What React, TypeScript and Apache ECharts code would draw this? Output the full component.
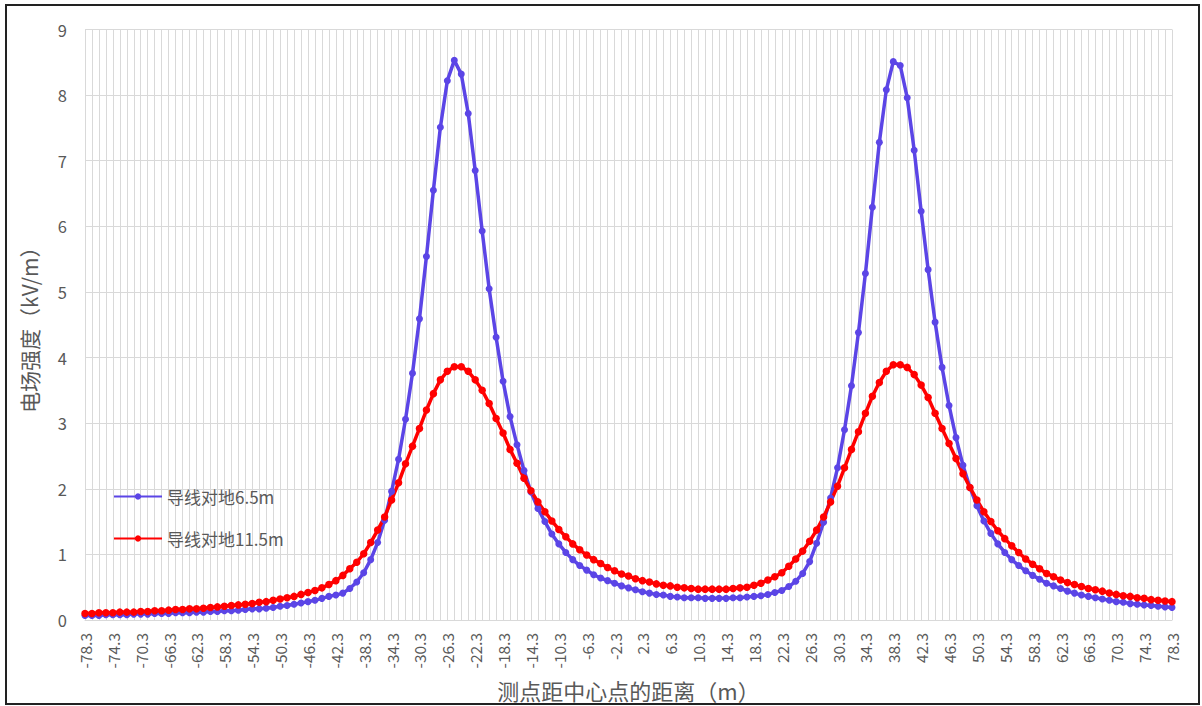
import React, { useEffect, useRef } from "react";
import * as echarts from "echarts";

const xCategories: string[] = [
  "-78.3","-77.3","-76.3","-75.3","-74.3","-73.3","-72.3","-71.3","-70.3","-69.3",
  "-68.3","-67.3","-66.3","-65.3","-64.3","-63.3","-62.3","-61.3","-60.3","-59.3",
  "-58.3","-57.3","-56.3","-55.3","-54.3","-53.3","-52.3","-51.3","-50.3","-49.3",
  "-48.3","-47.3","-46.3","-45.3","-44.3","-43.3","-42.3","-41.3","-40.3","-39.3",
  "-38.3","-37.3","-36.3","-35.3","-34.3","-33.3","-32.3","-31.3","-30.3","-29.3",
  "-28.3","-27.3","-26.3","-25.3","-24.3","-23.3","-22.3","-21.3","-20.3","-19.3",
  "-18.3","-17.3","-16.3","-15.3","-14.3","-13.3","-12.3","-11.3","-10.3","-9.3",
  "-8.3","-7.3","-6.3","-5.3","-4.3","-3.3","-2.3","-1.3","0","1.3",
  "2.3","3.3","4.3","5.3","6.3","7.3","8.3","9.3","10.3","11.3",
  "12.3","13.3","14.3","15.3","16.3","17.3","18.3","19.3","20.3","21.3",
  "22.3","23.3","24.3","25.3","26.3","27.3","28.3","29.3","30.3","31.3",
  "32.3","33.3","34.3","35.3","36.3","37.3","38.3","39.3","40.3","41.3",
  "42.3","43.3","44.3","45.3","46.3","47.3","48.3","49.3","50.3","51.3",
  "52.3","53.3","54.3","55.3","56.3","57.3","58.3","59.3","60.3","61.3",
  "62.3","63.3","64.3","65.3","66.3","67.3","68.3","69.3","70.3","71.3",
  "72.3","73.3","74.3","75.3","76.3","77.3","78.3"
];

const wire65: number[] = [
  0.07,0.07,0.07,0.08,0.08,0.08,0.08,0.09,0.09,0.09,
  0.10,0.10,0.10,0.11,0.11,0.11,0.12,0.12,0.13,0.13,
  0.14,0.14,0.15,0.16,0.17,0.17,0.18,0.19,0.21,0.22,
  0.24,0.26,0.28,0.30,0.33,0.36,0.38,
  0.41,0.48,0.58,0.72,0.92,1.18,1.52,1.96,2.45,3.06,
  3.76,4.59,5.54,6.55,7.51,8.22,8.53,8.32,7.72,6.85,5.93,5.05,4.31,3.64,3.10,2.67,
  2.28,1.95,
  1.70,1.50,1.31,1.16,1.03,0.92,0.83,0.76,0.69,0.64,0.60,0.56,0.52,0.49,0.46,0.43,0.41,0.39,0.38,0.36,
  0.35,0.34,0.34,0.34,0.33,0.33,0.33,0.33,0.34,0.34,0.35,0.36,0.37,0.39,0.42,
  0.45,0.51,0.59,0.71,0.89,1.17,1.49,1.86,2.32,2.90,3.57,4.38,5.28,6.29,7.28,8.08,8.51,8.45,7.96,7.16,
  6.23,5.34,4.54,3.85,3.27,2.78,
  2.36,2.02,1.74,1.51,1.32,1.16,1.03,0.92,0.83,0.75,0.68,0.62,0.56,0.52,0.48,0.44,0.41,0.38,0.36,0.34,
  0.32,0.30,0.28,0.27,0.25,0.24,0.23,0.22,0.21,0.20,0.19
];

const wire115: number[] = [
  0.10,0.10,0.11,0.11,0.11,0.12,0.12,0.12,0.13,0.13,
  0.14,0.14,0.15,0.16,0.16,0.17,0.17,0.18,0.19,0.20,
  0.21,0.22,0.23,0.24,0.25,0.27,0.28,0.30,0.32,0.34,
  0.36,0.39,0.42,0.45,0.49,0.54,0.60,
  0.68,0.78,0.88,1.01,1.18,1.37,1.57,1.83,2.09,2.38,2.65,2.92,3.20,3.45,3.66,3.79,3.86,3.86,3.79,3.66,
  3.50,3.30,3.07,2.85,2.60,2.39,
  2.16,1.97,1.80,1.65,1.51,1.38,1.27,1.16,1.07,0.99,0.92,0.86,0.80,0.75,0.70,0.67,0.63,0.60,0.58,0.55,
  0.53,0.52,0.50,0.49,0.48,0.47,0.47,0.47,0.47,0.47,0.48,0.49,0.50,0.53,0.56,0.61,0.66,
  0.72,0.82,0.93,1.05,1.20,1.37,1.57,1.80,2.04,2.32,2.60,2.87,3.15,3.41,3.62,3.79,3.89,3.89,3.85,3.74,
  3.58,3.39,3.15,2.92,2.69,2.46,
  2.23,2.02,1.83,1.65,1.50,1.36,1.24,1.13,1.03,0.93,0.85,0.78,0.71,0.66,0.61,0.57,0.54,0.51,0.48,0.46,
  0.44,0.41,0.39,0.37,0.36,0.34,0.33,0.31,0.30,0.29,0.28
];

const seriesNames = ["导线对地6.5m", "导线对地11.5m"];
const yTicks = { min: 0, max: 9, interval: 1 };

const FONT = "'Noto Sans CJK SC', 'Noto Sans', sans-serif";
const GRID_COLOR = "#d9d9d9";
const TEXT_COLOR = "#595959";

export default function App() {
  const ref = useRef<HTMLDivElement>(null);
  useEffect(() => {
    document.body.style.margin = "0";
    if (!ref.current) return;
    const chart = echarts.init(ref.current, null, { renderer: "svg" });
    chart.setOption({
      animation: false,
      backgroundColor: "#ffffff",
      textStyle: { fontFamily: FONT },
      grid: { left: 85, right: 30, top: 29.5, bottom: 79, containLabel: false },
      legend: {
        orient: "vertical",
        left: 108,
        top: 483,
        itemGap: 25,
        itemWidth: 48,
        itemHeight: 8,
        textStyle: { fontSize: 17, color: TEXT_COLOR, fontFamily: FONT },
        data: seriesNames,
      },
      xAxis: {
        type: "category",
        data: xCategories,
        boundaryGap: false,
        name: "测点距中心点的距离（m）",
        nameLocation: "middle",
        nameGap: 59,
        nameTextStyle: { fontSize: 22, color: TEXT_COLOR, fontFamily: FONT },
        axisLine: { show: true, lineStyle: { color: GRID_COLOR, width: 1 } },
        axisTick: { show: false },
        axisLabel: {
          interval: 3,
          rotate: 90,
          fontSize: 15.5,
          color: TEXT_COLOR,
          margin: 13,
          fontFamily: FONT,
        },
        splitLine: { show: true, interval: 0, lineStyle: { color: GRID_COLOR, width: 1 } },
      },
      yAxis: {
        type: "value",
        min: yTicks.min,
        max: yTicks.max,
        interval: yTicks.interval,
        name: "电场强度（kV/m）",
        nameLocation: "middle",
        nameGap: 46,
        nameTextStyle: { fontSize: 21, color: TEXT_COLOR, fontFamily: FONT },
        axisLine: { show: false },
        axisTick: { show: false },
        axisLabel: { fontSize: 16.5, color: TEXT_COLOR, margin: 18, fontFamily: FONT },
        splitLine: { show: true, lineStyle: { color: GRID_COLOR, width: 1 } },
      },
      graphic: [
        {
          type: "rect",
          shape: { x: 6, y: 5, width: 1193, height: 699 },
          style: { fill: "none", stroke: "#222", lineWidth: 2 },
          silent: true,
        },
      ],
      series: [
        {
          name: seriesNames[0],
          type: "line",
          data: wire65,
          symbol: "circle",
          symbolSize: 7,
          showAllSymbol: true,
          itemStyle: { color: "#5b45e6" },
          lineStyle: { color: "#5b45e6", width: 3.5 },
        },
        {
          name: seriesNames[1],
          type: "line",
          data: wire115,
          symbol: "circle",
          symbolSize: 7.5,
          showAllSymbol: true,
          itemStyle: { color: "#ff0000" },
          lineStyle: { color: "#ff0000", width: 3.5 },
        },
      ],
    });
    return () => chart.dispose();
  }, []);
  return (
    <div
      ref={ref}
      style={{ position: "fixed", left: 0, top: 0, width: 1202, height: 706, background: "#fff" }}
    />
  );
}
